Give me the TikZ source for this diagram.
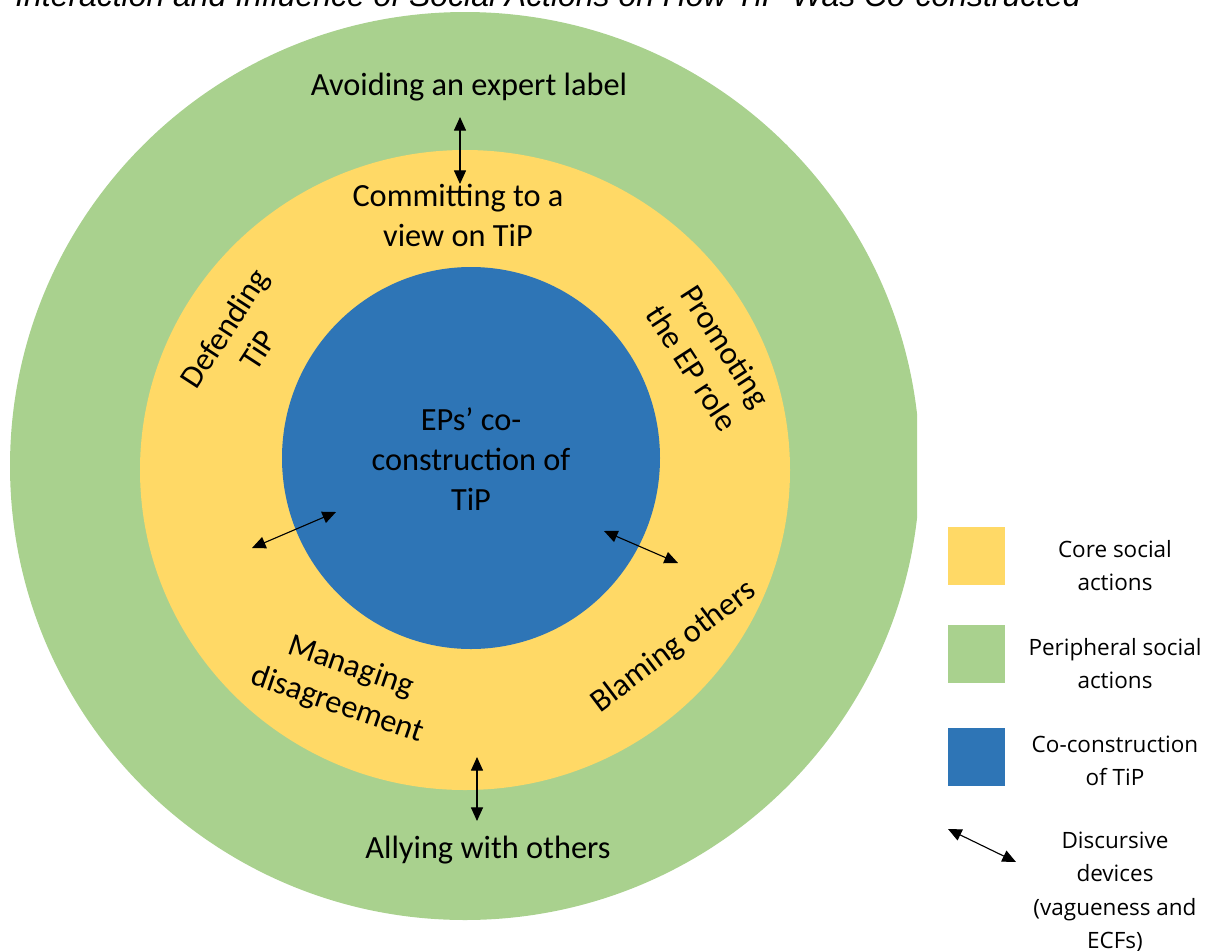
\documentclass[tikz,border=0pt]{standalone}
\usepackage{fontspec}
\setmainfont{Carlito}
\newfontfamily\titlefont{Liberation Sans}
\newfontfamily\keyfont{Open Sans}
\usetikzlibrary{positioning}
\usetikzlibrary{arrows.meta}
\definecolor{coreyellow}{HTML}{FFD966}
\definecolor{periphgreen}{HTML}{A9D18E}
\definecolor{coblue}{HTML}{2E75B6}
\tikzset{
  lbl/.style={align=center, inner sep=0pt, font=\fontsize{23}{28.5}\selectfont},
  keytext/.style={align=center, inner sep=0pt, font=\keyfont\fontsize{16}{23.5}\selectfont},
  keybox/.style={inner sep=0pt, minimum width=1.425cm, minimum height=1.45cm},
  device/.style={{Triangle[length=0.34cm,width=0.3cm]}-{Triangle[length=0.34cm,width=0.3cm]}, line width=0.8pt}
}

\begin{document}
\begin{tikzpicture}[x=0.025cm, y=-0.025cm]
  \path[use as bounding box, clip] (0,0) rectangle (1206,950);

  % rings
  \begin{scope}
    \clip (0,0) rectangle (917,950);
    \fill[periphgreen] (465,466) ellipse [x radius=455, y radius=454];
  \end{scope}
  \fill[coreyellow] (465,470) ellipse [x radius=325, y radius=320];
  \fill[coblue] (471,458) ellipse [x radius=189, y radius=191];

  \node[anchor=base, font=\titlefont\itshape\fontsize{22.7}{26}\selectfont] (title) at (548,6)
    {Interaction and Influence of Social Actions on How TiP Was Co-constructed};

  \node[lbl] (avoid) at (469,87) {Avoiding an expert label};
  \node[lbl] (commit) at (458,215) {Committing to a\\view on TiP};
  \node[lbl, rotate=57] (defend) at (241,339) {Defending\\TiP};
  \node[lbl, rotate=-57] (promote) at (709,357) {Promoting\\the EP role};
  \node[lbl] (core) at (471,459) {EPs’ co-\\construction of\\TiP};
  \node[lbl, rotate=-19] (manage) at (344,686) {Managing\\disagreement};
  \node[lbl, rotate=37] (blame) at (674,647) {Blaming others};
  \node[lbl] (ally) at (488,850) {Allying with others};

  % discursive devices
  \coordinate (top_out) at (460,117);
  \coordinate (top_in) at (460,184);
  \coordinate (bot_in) at (477,757);
  \coordinate (bot_out) at (477,821);
  \coordinate (left_out) at (252,548);
  \coordinate (left_in) at (336,512);
  \coordinate (right_in) at (604,531);
  \coordinate (right_out) at (678,563);
  \draw[device] (top_out) -- (top_in);
  \draw[device] (bot_in) -- (bot_out);
  \draw[device] (left_out) -- (left_in);
  \draw[device] (right_in) -- (right_out);

  % key
  \node[keybox, fill=coreyellow] (key_core) at (976.5,556) {};
  \node[keybox, fill=periphgreen, below=0.975cm of key_core] (key_periph) {};
  \node[keybox, fill=coblue, below=1.125cm of key_periph] (key_co) {};
  \node[keytext] (key_core_txt) at (1115,566) {Core social\\actions};
  \node[keytext] (key_periph_txt) at (1115,664) {Peripheral social\\actions};
  \node[keytext] (key_co_txt) at (1115,761) {Co-construction\\of TiP};
  \coordinate (key_dev_a) at (948,829);
  \coordinate (key_dev_b) at (1016,862);
  \draw[device] (key_dev_a) -- (key_dev_b);
  \node[keytext] (key_dev_txt) at (1115,892) {Discursive\\devices\\(vagueness and\\ECFs)};
\end{tikzpicture}
\end{document}
